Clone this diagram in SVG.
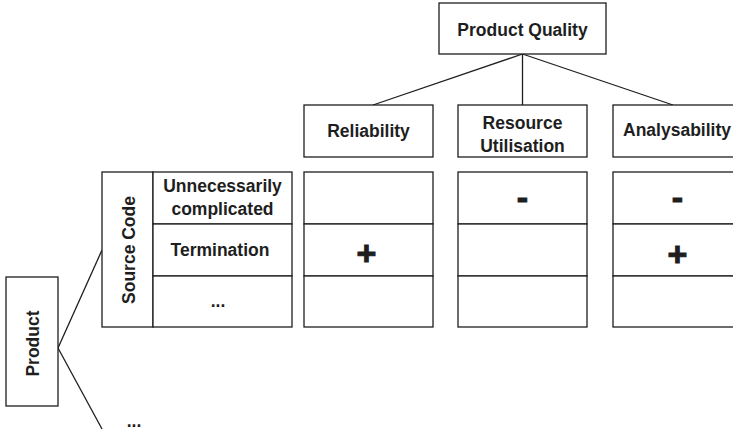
<svg xmlns="http://www.w3.org/2000/svg" width="733" height="432" viewBox="0 0 733 432">
  <style>
    .box { fill: #ffffff; stroke: #1e1e1e; stroke-width: 1.3; }
    .edge { fill: none; stroke: #1e1e1e; stroke-width: 1.3; }
    .lbl { font-family: "Liberation Sans", Arial, sans-serif; font-weight: bold; font-size: 17.5px; fill: #1e1e1e; text-anchor: middle; }
    .sign { font-family: "Liberation Sans", Arial, sans-serif; font-weight: bold; font-size: 34px; fill: #1e1e1e; stroke: #1e1e1e; stroke-width: 1; text-anchor: middle; }
  </style>
  <rect width="733" height="432" fill="#ffffff"/>

  <!-- connectors -->
  <g id="connectors">
    <line class="edge" x1="522.5" y1="54" x2="373" y2="105"/>
    <line class="edge" x1="522.5" y1="54" x2="522.5" y2="105"/>
    <line class="edge" x1="522.5" y1="54" x2="673" y2="105"/>
    <line class="edge" x1="58" y1="348" x2="102" y2="250"/>
    <line class="edge" x1="58" y1="348" x2="102" y2="429"/>
  </g>

  <!-- quality tree -->
  <g id="product-quality">
    <rect class="box" x="439" y="3" width="167" height="51"/>
    <text class="lbl" x="522.5" y="36">Product Quality</text>
  </g>
  <g id="reliability">
    <rect class="box" x="304" y="105" width="129" height="52"/>
    <text class="lbl" x="368.5" y="137">Reliability</text>
  </g>
  <g id="resource-utilisation">
    <rect class="box" x="458" y="105" width="129" height="52"/>
    <text class="lbl" x="522.5" y="128.5">Resource</text>
    <text class="lbl" x="522.5" y="151.5">Utilisation</text>
  </g>
  <g id="analysability">
    <rect class="box" x="613" y="105" width="130" height="52"/>
    <text class="lbl" x="677" y="136">Analysability</text>
  </g>

  <!-- product tree -->
  <g id="product">
    <rect class="box" x="6" y="277" width="52" height="129"/>
    <text class="lbl" transform="translate(39,343.5) rotate(-90)">Product</text>
  </g>
  <g id="product-more">
    <text class="lbl" x="134" y="427">...</text>
  </g>

  <g id="source-code">
    <rect class="box" x="102" y="172" width="51" height="155"/>
    <text class="lbl" transform="translate(134.5,250) rotate(-90)">Source Code</text>
  </g>
  <g id="item-unnecessarily-complicated">
    <rect class="box" x="153" y="172" width="139" height="52"/>
    <text class="lbl" x="222.5" y="192">Unnecessarily</text>
    <text class="lbl" x="222.5" y="215">complicated</text>
  </g>
  <g id="item-termination">
    <rect class="box" x="153" y="224" width="139" height="52"/>
    <text class="lbl" x="220" y="256">Termination</text>
  </g>
  <g id="item-more">
    <rect class="box" x="153" y="276" width="139" height="51"/>
    <text class="lbl" x="218" y="307">...</text>
  </g>

  <!-- impact matrix -->
  <g id="reliability-cells">
    <rect class="box" x="304" y="172" width="129" height="52"/>
    <rect class="box" x="304" y="224" width="129" height="52"/>
    <rect class="box" x="304" y="276" width="129" height="51"/>
    <text class="sign" x="366.5" y="264.5">+</text>
  </g>
  <g id="resource-utilisation-cells">
    <rect class="box" x="458" y="172" width="129" height="52"/>
    <rect class="box" x="458" y="224" width="129" height="52"/>
    <rect class="box" x="458" y="276" width="129" height="51"/>
    <text class="sign" x="522.5" y="209">-</text>
  </g>
  <g id="analysability-cells">
    <rect class="box" x="613" y="172" width="130" height="52"/>
    <rect class="box" x="613" y="224" width="130" height="52"/>
    <rect class="box" x="613" y="276" width="130" height="51"/>
    <text class="sign" x="677.5" y="209">-</text>
    <text class="sign" x="677.5" y="266">+</text>
  </g>
</svg>
